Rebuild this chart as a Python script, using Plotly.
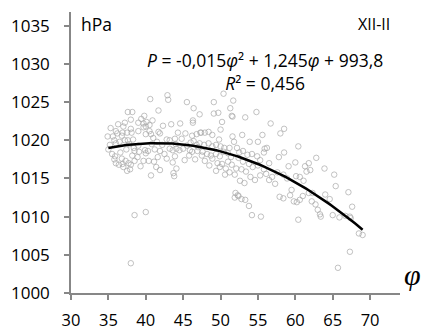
import numpy as np
import plotly.graph_objects as go

# latitude (phi) and pressure (hPa) readings
lat = [35.2,35.3,35.6,36.3,36.2,36.8,36.9,37.5,38.1,37.6,38.2,38.0,38.0,36.0,36.5,37.2,37.6,38.3,35.8,36.0,36.8,37.0,37.5,37.9,38.0,38.5,36.4,37.3,35.5,36.6,37.4,38.2,37.0,36.0,35.8,37.8,38.0,38.5,37.2,35.9,36.9,37.7,38.4,35.0,34.9,
       39.4,39.0,39.7,40.1,40.5,40.6,41.7,40.0,39.0,39.7,40.5,41.7,41.9,40.0,40.7,38.5,39.1,39.9,40.0,40.3,41.2,41.9,39.7,40.4,41.1,41.6,41.4,41.9,40.7,40.0,39.0,40.8,41.5,39.3,38.9,41.0,39.8,40.9,
       42.9,43.0,45.5,46.4,47.2,42.3,43.4,44.6,46.3,46.3,44.3,45.3,46.2,46.8,47.3,42.8,43.2,43.9,44.8,46.0,46.4,46.8,43.2,43.6,44.1,44.5,45.0,45.9,46.2,46.9,42.8,43.9,43.6,44.1,43.7,43.8,45.2,46.6,42.2,44.0,45.5,47.0,42.5,45.8,
       49.1,50.4,51.7,51.3,51.6,49.1,49.7,50.2,51.5,47.4,47.9,48.4,48.9,49.8,50.0,51.6,51.8,47.2,47.8,48.4,48.9,49.4,50.0,50.5,51.2,47.6,48.2,48.7,49.4,49.9,50.4,51.0,51.4,47.9,48.9,49.6,50.2,51.0,51.5,49.4,49.9,50.7,51.2,51.9,52.0,52.3,51.9,50.6,48.5,47.5,
       53.3,54.8,56.7,52.9,55.6,53.9,55.0,55.9,56.2,55.8,52.2,52.5,53.0,53.6,54.2,54.9,55.3,52.4,53.0,53.8,54.3,55.0,52.8,53.4,54.0,54.6,55.3,56.1,56.5,56.9,52.4,52.8,53.3,53.8,54.2,55.4,52.1,53.2,55.8,56.5,52.6,
       58.0,58.5,60.4,57.8,58.5,59.1,60.0,61.3,61.8,57.6,58.4,58.9,60.1,60.6,61.5,62.0,61.1,57.9,58.4,59.3,59.8,60.2,60.6,61.0,60.4,61.8,57.3,59.5,
       62.8,63.9,65.2,65.4,67.1,67.6,67.3,68.5,69.0,67.3,65.7,62.3,62.7,63.0,63.3,63.4,64.0,64.6,65.0,65.9,66.7,67.4,62.2]
pres = [1019.4,1021.6,1020.5,1022.1,1020.9,1020.6,1021.0,1021.0,1021.0,1023.7,1023.7,1022.7,1021.5,1019.6,1019.8,1020.0,1020.0,1020.1,1017.5,1017.0,1017.6,1016.5,1016.0,1016.2,1016.8,1017.3,1016.8,1017.3,1018.2,1018.4,1018.8,1018.0,1021.8,1021.2,1020.0,1019.5,1003.9,1010.2,1022.3,1017.9,1016.9,1017.0,1019.0,1018.8,1020.5,
        1022.8,1022.3,1022.2,1022.4,1022.0,1025.4,1023.9,1021.8,1021.2,1021.7,1021.2,1021.1,1020.9,1020.8,1020.8,1018.6,1018.5,1018.7,1018.3,1018.6,1018.8,1018.6,1017.3,1017.3,1017.2,1017.8,1016.5,1016.1,1015.4,1010.6,1019.3,1019.5,1019.8,1016.6,1017.8,1020.3,1023.2,1022.6,
        1025.9,1025.3,1025.0,1024.2,1023.4,1021.9,1022.1,1022.2,1022.6,1022.3,1021.0,1020.9,1020.6,1020.8,1021.0,1020.1,1020.0,1020.2,1020.2,1019.7,1019.9,1019.4,1018.9,1018.7,1018.9,1018.7,1018.9,1018.7,1018.5,1018.6,1017.6,1017.9,1017.1,1016.3,1015.7,1015.3,1017.4,1017.5,1019.4,1019.5,1019.3,1019.1,1018.2,1018.0,
        1025.0,1026.1,1025.2,1024.2,1023.1,1023.5,1023.6,1022.4,1023.2,1021.0,1021.0,1021.1,1020.7,1020.1,1021.4,1020.5,1019.8,1019.6,1019.4,1019.6,1019.2,1019.4,1019.2,1019.0,1019.0,1018.5,1018.2,1018.0,1018.2,1017.9,1018.5,1018.3,1017.8,1017.3,1017.6,1017.0,1016.9,1017.2,1016.8,1016.0,1016.5,1016.3,1015.8,1015.5,1013.1,1012.8,1012.5,1015.5,1016.7,1018.0,
        1023.0,1023.7,1022.2,1020.7,1020.7,1019.8,1019.8,1018.9,1019.0,1018.4,1019.0,1018.4,1018.6,1018.1,1018.2,1017.9,1017.4,1017.7,1017.2,1016.9,1016.5,1016.7,1016.2,1015.9,1015.2,1014.8,1015.4,1015.6,1014.8,1015.2,1012.7,1012.3,1012.2,1011.4,1010.2,1010.0,1016.3,1014.4,1016.2,1017.0,1014.7,
        1020.9,1021.5,1019.2,1017.8,1018.4,1016.6,1017.1,1016.6,1017.0,1015.8,1015.5,1015.0,1015.3,1015.2,1015.9,1016.1,1014.7,1012.6,1012.4,1012.8,1012.0,1011.9,1012.2,1012.7,1009.6,1013.1,1014.3,1013.5,
        1017.7,1016.3,1015.5,1014.0,1013.2,1011.3,1010.0,1007.8,1007.6,1005.4,1003.3,1013.1,1011.6,1010.9,1010.3,1010.0,1012.9,1012.3,1010.2,1009.9,1010.1,1009.8,1012.0]

# trendline coefficients shown on chart
coef = [-0.015, 1.245, 993.8]
fit_range = [35, 69]

x_ticks = [30, 35, 40, 45, 50, 55, 60, 65, 70]
y_ticks = [1000, 1005, 1010, 1015, 1020, 1025, 1030, 1035]

fx = np.linspace(fit_range[0], fit_range[1], 100)
fy = np.polyval(coef, fx)

fig = go.Figure()
fig.add_trace(go.Scatter(x=lat, y=pres, mode="markers",
                         marker=dict(symbol="circle-open", size=5.5, color="#a8a8a8", line=dict(width=0.7)),
                         showlegend=False, cliponaxis=False))
fig.add_trace(go.Scatter(x=fx, y=fy, mode="lines", line=dict(color="black", width=2.5), showlegend=False))

font = "Open Sans, Liberation Sans, sans-serif"
axis_common = dict(showgrid=False, zeroline=False, showline=True, linecolor="#878787", linewidth=1.5,
                   ticks="outside", ticklen=5, tickcolor="#878787", tickwidth=1.5, automargin=False,
                   tickfont=dict(family=font, size=17, color="black"))
fig.update_xaxes(range=[30, 74], tickvals=x_ticks, ticklabelstandoff=6, **axis_common)
fig.update_yaxes(range=[1000, 1036.8], tickvals=y_ticks, ticklabelstandoff=11, **axis_common)
fig.update_xaxes(tickfont_size=16.5)

fig.add_annotation(x=31.1, y=1035.2, xanchor="left", yanchor="middle", text="hPa", showarrow=False,
                   font=dict(family=font, size=17.5, color="black"))
fig.add_annotation(x=72.9, y=1035.2, xanchor="right", yanchor="middle", text="XII-II", showarrow=False,
                   font=dict(family=font, size=16, color="black"))
fig.add_annotation(x=56.0, y=1029.0, xanchor="center", yanchor="middle", align="center",
                   text="<i>P</i> = -0,015<i>φ</i>² + 1,245<i>φ</i> + 993,8<br><i>R</i>² = 0,456",
                   showarrow=False,
                   font=dict(family=font, size=17.5, color="black"))
fig.add_annotation(x=1.0, xref="paper", xanchor="left", xshift=2, y=1002.4, yanchor="middle",
                   text="<i>φ</i>", showarrow=False,
                   font=dict(family="Liberation Serif, serif", size=30, color="black"))

fig.update_layout(width=421, height=330, margin=dict(l=71, r=21, t=12, b=37, autoexpand=False),
                  plot_bgcolor="white", paper_bgcolor="white")
fig.write_html("out.html")
